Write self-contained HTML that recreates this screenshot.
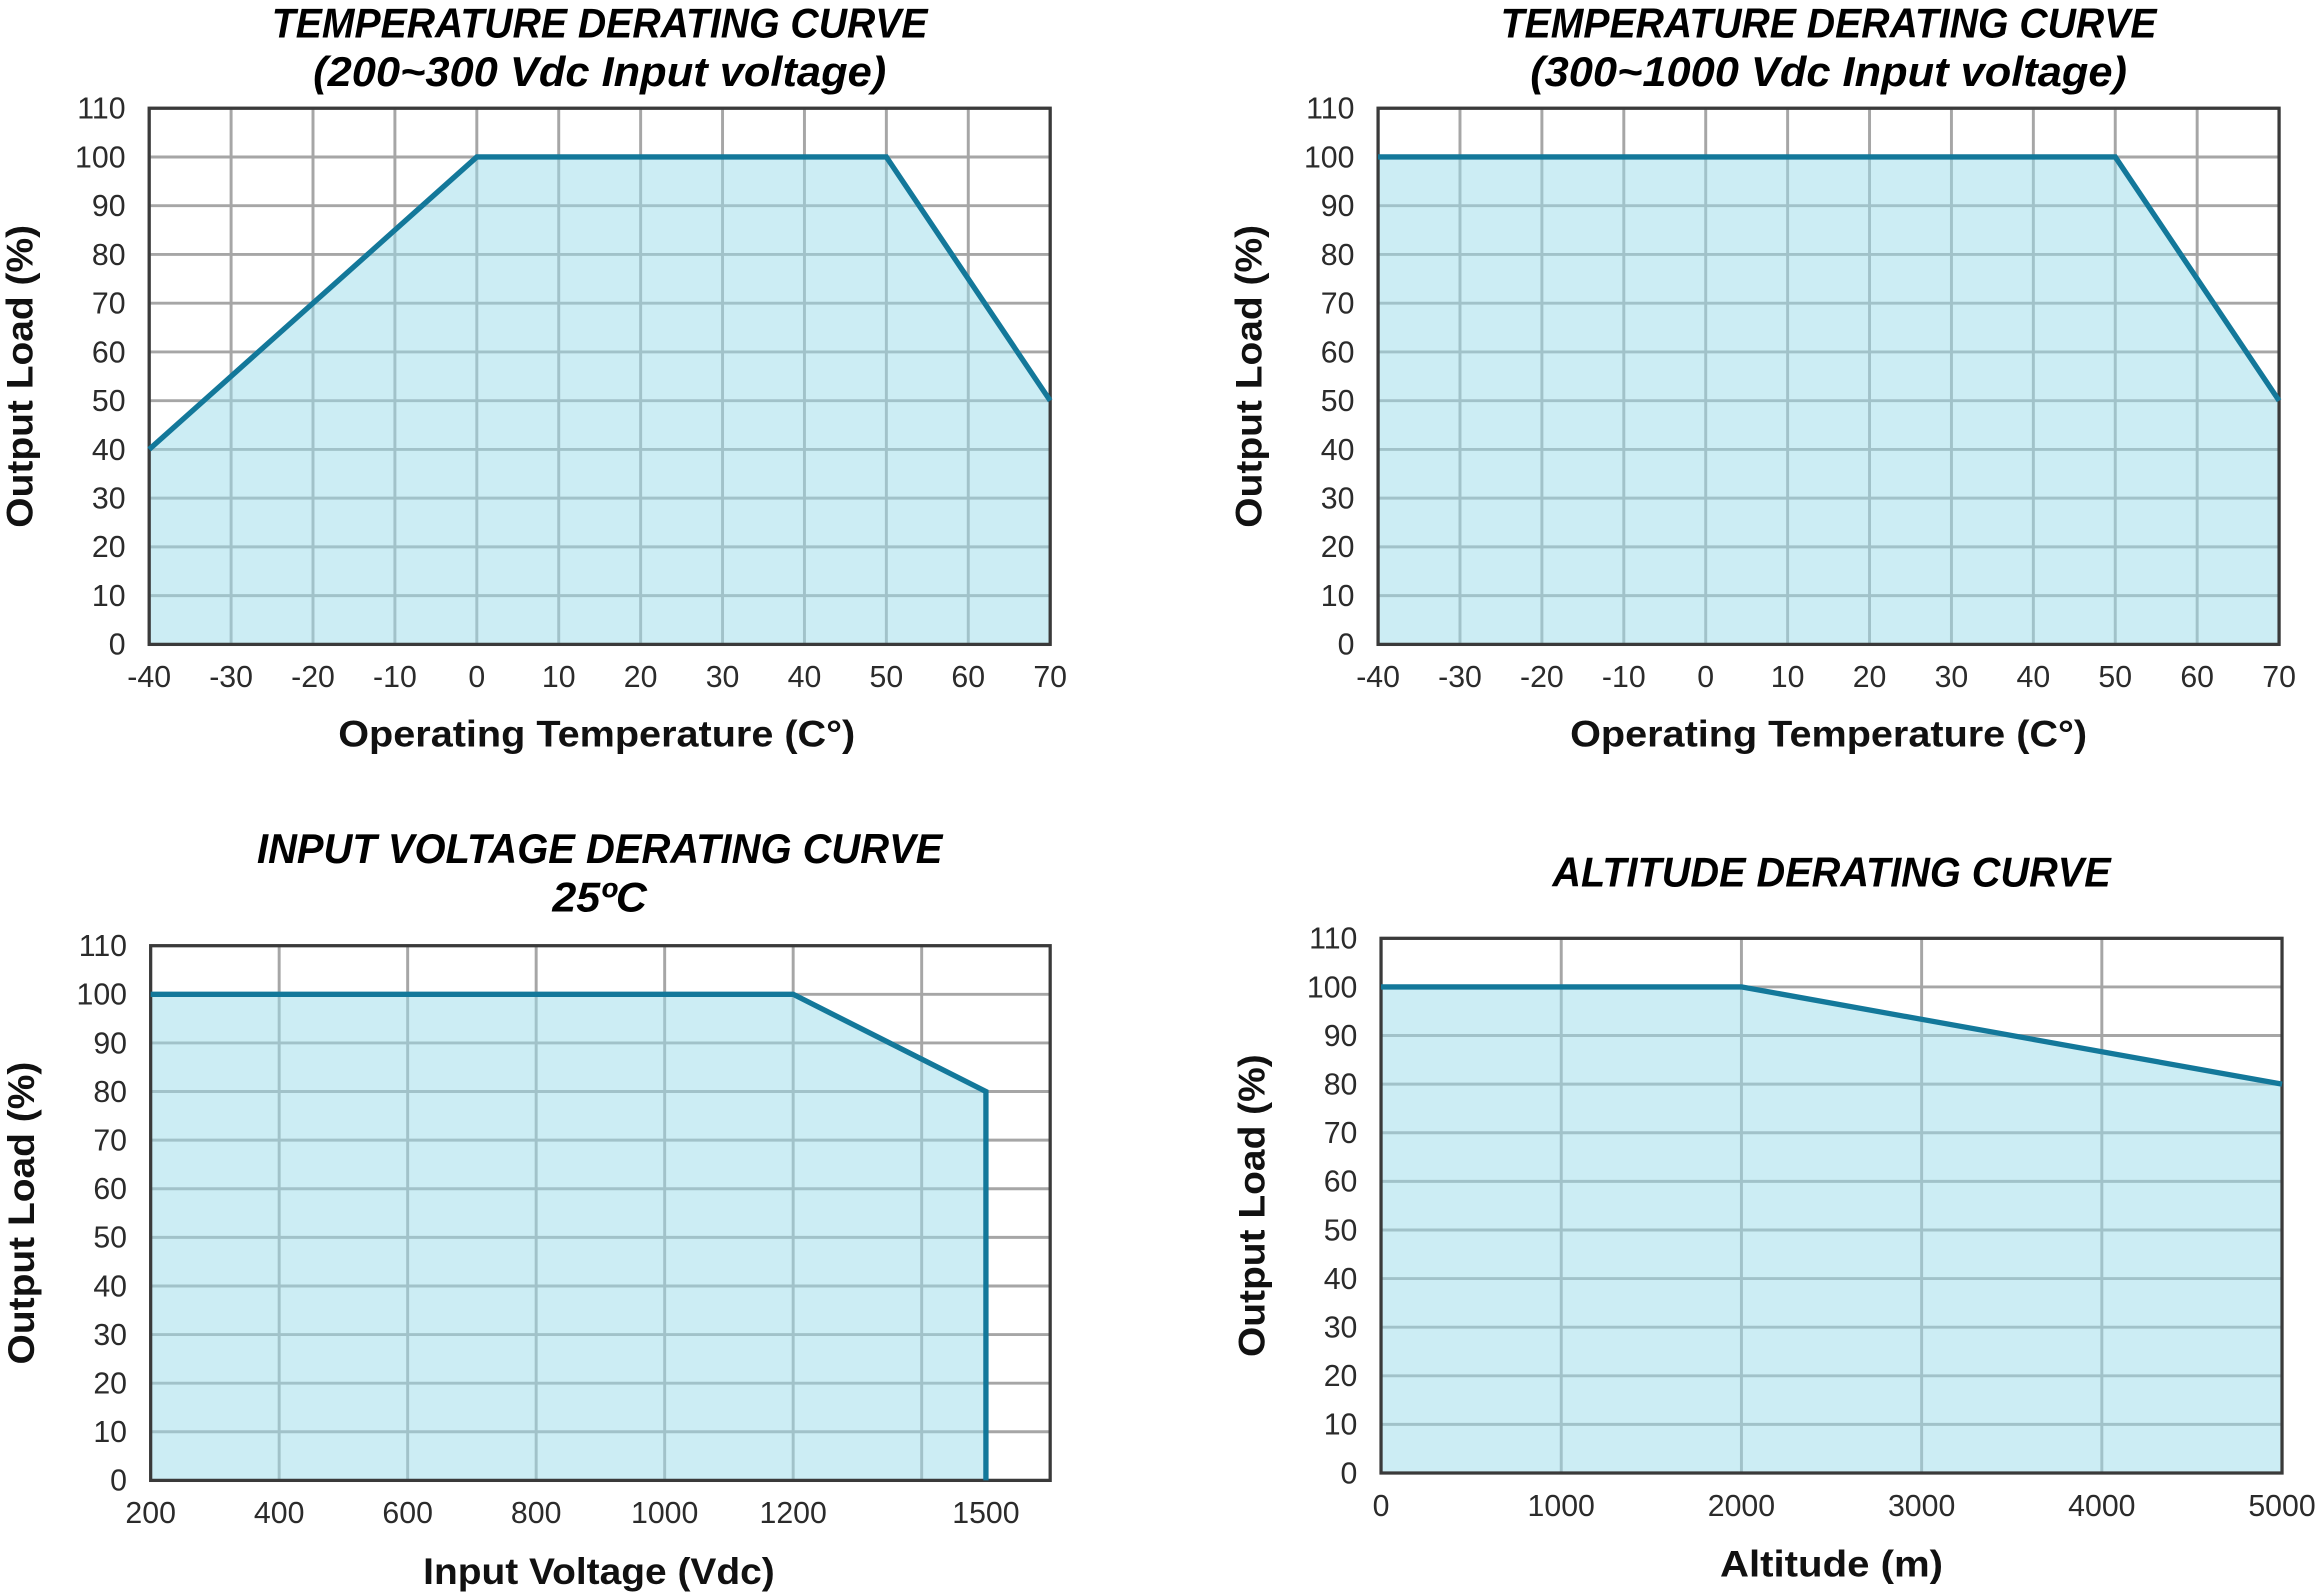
<!DOCTYPE html>
<html><head><meta charset="utf-8"><style>
html,body{margin:0;padding:0;background:#fff;}
svg{display:block;}
text{font-family:"Liberation Sans",sans-serif;fill:#2b2b2b;}
.tick{font-size:20.5px;}
.ax{font-size:25px;font-weight:bold;fill:#111;}
.title{font-family:"Liberation Sans Narrow","Liberation Sans",sans-serif;font-size:28px;font-weight:bold;font-style:italic;fill:#000;}
</style></head><body>
<svg id="root" width="2316" height="1596" viewBox="0 0 1568 1080" xmlns="http://www.w3.org/2000/svg"></svg>
<script>
// Chart 1 data
const c1X = [-40, 0, 50, 70];
const c1Y = [40, 100, 100, 50];
const c1Ticks = [-40,-30,-20,-10,0,10,20,30,40,50,60,70];
// Chart 2 data
const c2X = [-40, 50, 70];
const c2Y = [100, 100, 50];
const c2Ticks = [-40,-30,-20,-10,0,10,20,30,40,50,60,70];
// Chart 3 data
const c3X = [200, 1200, 1500, 1500];
const c3Y = [100, 100, 80, 0];
const c3Ticks = [200,400,600,800,1000,1200,1500];
const c3Grid = [400,600,800,1000,1200,1400];
// Chart 4 data
const c4X = [0, 2000, 5000];
const c4Y = [100, 100, 80];
const c4Ticks = [0,1000,2000,3000,4000,5000];
const yTicks = [0,10,20,30,40,50,60,70,80,90,100,110];

const NS="http://www.w3.org/2000/svg";
const root=document.getElementById('root');
function mk(tag,attrs,parent){const e=document.createElementNS(NS,tag);for(const k in attrs)e.setAttribute(k,attrs[k]);(parent||root).appendChild(e);return e;}

function chart(cfg){
  const g=mk('g',{});
  
  
  const {x0,x1,y0,y1,xmin,xmax}=cfg;
  const sx=v=>x0+(v-xmin)/(xmax-xmin)*(x1-x0);
  const sy=v=>y1-(v/110)*(y1-y0);
  const xg=cfg.grid||cfg.ticks;
  xg.forEach(v=>{const l=mk('line',{x1:sx(v),x2:sx(v),y1:y0,y2:y1,stroke:'#a6a6a6','stroke-width':2},g);
    });
  yTicks.forEach(v=>{const l=mk('line',{x1:x0,x2:x1,y1:sy(v),y2:sy(v),stroke:'#a6a6a6','stroke-width':2},g);
    });
  let d='M'+sx(cfg.xs[0])+','+sy(0);
  cfg.xs.forEach((v,i)=>{d+=' L'+sx(v)+','+sy(cfg.ys[i]);});
  d+=' L'+sx(cfg.xs[cfg.xs.length-1])+','+sy(0)+'Z';
  const a=mk('path',{d:d,fill:'#9edcea','fill-opacity':0.52},g);
  
  const f=mk('rect',{x:x0,y:y0,width:x1-x0,height:y1-y0,fill:'none',stroke:'#3a3a3a','stroke-width':2.2},g);
  
  const pts=cfg.xs.map((v,i)=>sx(v)+','+sy(cfg.ys[i])).join(' ');
  const pl=mk('polyline',{points:pts,fill:'none',stroke:'#13789a','stroke-width':3.6,'stroke-linejoin':'miter'},g);
  
  yTicks.forEach(v=>{const t=mk('text',{x:x0-16,y:sy(v)+7,'text-anchor':'end',class:'tick'},g);t.textContent=v;
    });
  cfg.ticks.forEach(v=>{const t=mk('text',{x:sx(v),y:y1+29,'text-anchor':'middle',class:'tick'},g);t.textContent=v;
    });
  const yt=mk('text',{x:0,y:0,'text-anchor':'middle',class:'ax',textLength:205,lengthAdjust:'spacingAndGlyphs',transform:`translate(${x0-79},${(y0+y1)/2}) rotate(-90)`},g);
  yt.textContent='Output Load (%)';
  
  const xt=mk('text',{x:(x0+x1)/2+cfg.xtOff,y:cfg.xtY,'text-anchor':'middle',class:'ax',textLength:cfg.xtLen,lengthAdjust:'spacingAndGlyphs'},g);
  xt.textContent=cfg.xtitle;
  
  cfg.titles.forEach((s,i)=>{const t=mk('text',{x:cfg.tx,y:cfg.ty+i*33,'text-anchor':'middle',class:'title',textLength:s[1],lengthAdjust:'spacingAndGlyphs'},g);
    t.textContent=s[0];});
}
chart({name:'temp-derating-200-300',x0:101,x1:711,y0:73,y1:436,xmin:-40,xmax:70,xs:c1X,ys:c1Y,ticks:c1Ticks,
  xtitle:'Operating Temperature (C°)',xtY:505,xtOff:-2,xtLen:350,tx:406,ty:25,
  titles:[['TEMPERATURE DERATING CURVE',444],['(200~300 Vdc Input voltage)',388]]});
chart({name:'temp-derating-300-1000',x0:933,x1:1543,y0:73,y1:436,xmin:-40,xmax:70,xs:c2X,ys:c2Y,ticks:c2Ticks,
  xtitle:'Operating Temperature (C°)',xtY:505,xtOff:0,xtLen:350,tx:1238,ty:25,
  titles:[['TEMPERATURE DERATING CURVE',444],['(300~1000 Vdc Input voltage)',404]]});
chart({name:'input-voltage-derating',x0:102,x1:711,y0:640,y1:1002,xmin:200,xmax:1600,xs:c3X,ys:c3Y,ticks:c3Ticks,grid:c3Grid,
  xtitle:'Input Voltage (Vdc)',xtY:1072,xtOff:-1,xtLen:238,tx:406,ty:584,
  titles:[['INPUT VOLTAGE DERATING CURVE',464],['25ºC',64]]});
chart({name:'altitude-derating',x0:935,x1:1545,y0:635,y1:997,xmin:0,xmax:5000,xs:c4X,ys:c4Y,ticks:c4Ticks,
  xtitle:'Altitude (m)',xtY:1067,xtOff:0,xtLen:151,tx:1240,ty:600,
  titles:[['ALTITUDE DERATING CURVE',378]]});
</script>
</body></html>
